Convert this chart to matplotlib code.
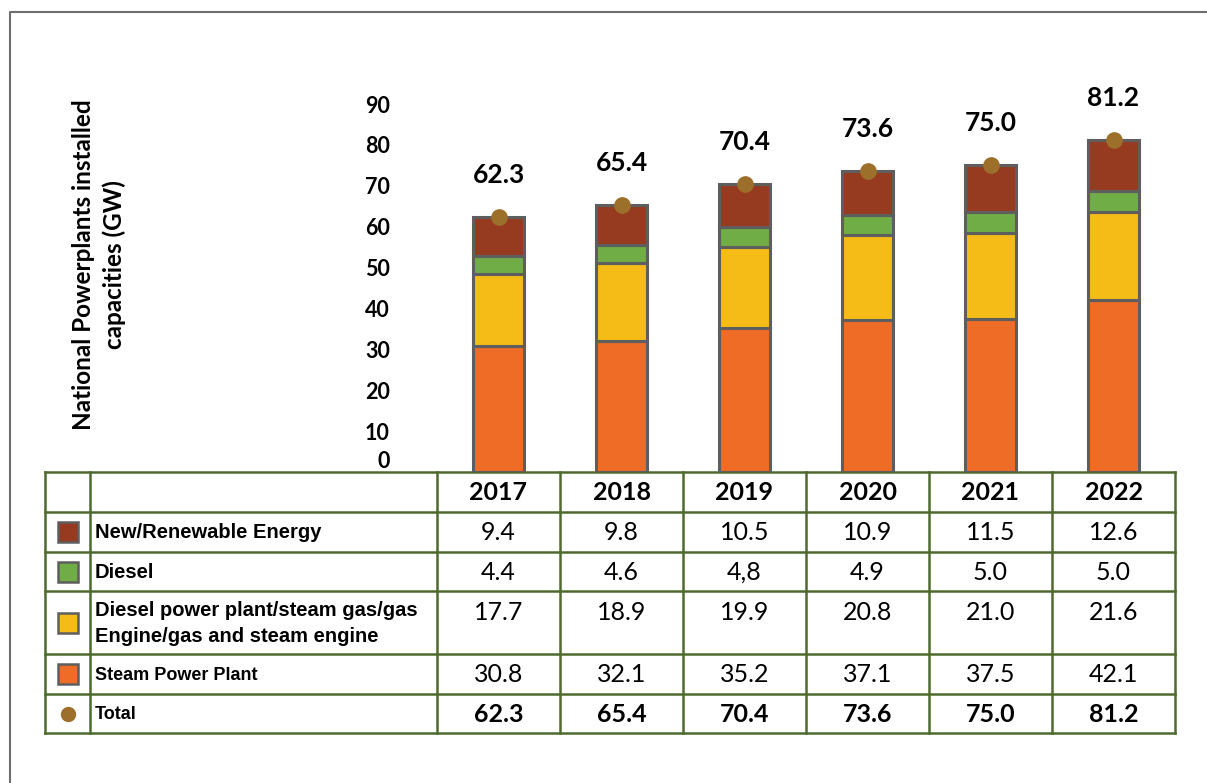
import matplotlib.pyplot as plt
from matplotlib.patches import Rectangle

# Data
years = ["2017", "2018", "2019", "2020", "2021", "2022"]
steam = [30.8, 32.1, 35.2, 37.1, 37.5, 42.1]
gas_engine = [17.7, 18.9, 19.9, 20.8, 21.0, 21.6]
diesel = [4.4, 4.6, 4.8, 4.9, 5.0, 5.0]
renewable = [9.4, 9.8, 10.5, 10.9, 11.5, 12.6]
total = [62.3, 65.4, 70.4, 73.6, 75.0, 81.2]
diesel_text = ["4.4", "4.6", "4,8", "4.9", "5.0", "5.0"]
yticks = [0, 10, 20, 30, 40, 50, 60, 70, 80, 90]

c_ren = "#973B20"
c_die = "#70AD47"
c_gas = "#F5BC17"
c_steam = "#EE6C25"
c_tot = "#9C6F2A"
edge = "#5E5E5E"
grid_green = "#4E6B2E"

W, H = 1207, 783
fig = plt.figure(figsize=(W / 100, H / 100), dpi=100)
plt.rcParams['font.family'] = ['Lato', 'DejaVu Sans']

# Overlay axes in pixel coordinates for the frame and the table
ov = fig.add_axes([0, 0, 1, 1])
ov.set_xlim(0, W)
ov.set_ylim(H, 0)
ov.axis('off')

# Outer frame (left and top)
ov.plot([10, 10, W], [H, 12, 12], color="#6E6E6E", lw=1.5)

# Bar chart axes
left, right, base, top = 437, 1175, 472, 104
ax = fig.add_axes([left / W, 1 - base / H, (right - left) / W, (base - top) / H])
ax.set_xlim(-0.5, len(years) - 0.5)
ax.set_ylim(0, 90)
x = list(range(len(years)))
bw = 0.41
bottom = [0] * len(years)
for vals, col in [(steam, c_steam), (gas_engine, c_gas), (diesel, c_die), (renewable, c_ren)]:
    ax.bar(x, vals, bw, bottom=bottom, color=col, edgecolor=edge, linewidth=2.2, zorder=2)
    bottom = [b + v for b, v in zip(bottom, vals)]

ax.plot(x, total, 'o', color=c_tot, markersize=11, zorder=3, clip_on=False)
for xi, t in zip(x, total):
    ax.annotate(f"{t:.1f}", (xi, t), xytext=(0, 30), textcoords='offset pixels',
                ha='center', va='bottom', fontsize=19, fontweight='bold')

for s in ax.spines.values():
    s.set_visible(False)
ax.set_xticks([])
ax.set_yticks(yticks)
ax.set_yticklabels([str(v) for v in yticks], fontsize=15.5, fontweight='bold')
ax.tick_params(axis='y', length=0, pad=34)
ax.get_yticklabels()[0].set_va('bottom')
ax.patch.set_visible(False)

fig.text(99 / W, 1 - 265 / H, "National Powerplants installed\ncapacities (GW)",
         rotation=90, ha='center', va='center', fontsize=17.5, fontweight='bold',
         linespacing=1.35)

# Table
col_edges = [45, 90, 437, 560, 683, 806, 929, 1052, 1175]
row_edges = [472, 512, 552, 591, 654, 694, 733]
for cx in col_edges:
    ov.plot([cx, cx], [row_edges[0], row_edges[-1]], color=grid_green, lw=1.8)
for ry in row_edges:
    ov.plot([col_edges[0], col_edges[-1]], [ry, ry], color=grid_green, lw=1.8)

row_names = ["New/Renewable Energy", "Diesel",
             "Diesel power plant/steam gas/gas\nEngine/gas and steam engine",
             "Steam Power Plant", "Total"]
row_colors = [c_ren, c_die, c_gas, c_steam, None]
row_values = [[f"{v:.1f}" for v in renewable], diesel_text,
              [f"{v:.1f}" for v in gas_engine], [f"{v:.1f}" for v in steam],
              [f"{v:.1f}" for v in total]]
label_font = ['Liberation Sans Narrow', 'Liberation Sans', 'DejaVu Sans']

for j, yr in enumerate(years):
    cx = (col_edges[j + 2] + col_edges[j + 3]) / 2
    ov.text(cx, (row_edges[0] + row_edges[1]) / 2 + 1, yr, ha='center', va='center',
            fontsize=18, fontweight='bold')

for i, name in enumerate(row_names):
    y0, y1 = row_edges[i + 1], row_edges[i + 2]
    yc = (y0 + y1) / 2
    sx = (col_edges[0] + col_edges[1]) / 2
    if row_colors[i] is not None:
        ov.add_patch(Rectangle((sx - 10, yc - 10), 20, 20, facecolor=row_colors[i],
                               edgecolor=edge, lw=1.8))
    else:
        ov.plot(sx, yc, 'o', color=c_tot, markersize=10)
    fs = 13 if i in (3, 4) else 14.5
    ov.text(col_edges[1] + 5, yc + 1, name, ha='left', va='center', fontsize=fs,
            fontweight='bold', family=label_font, linespacing=1.45)
    for j, val in enumerate(row_values[i]):
        cx = (col_edges[j + 2] + col_edges[j + 3]) / 2
        ty = y0 + 21 if i == 2 else yc + 1
        ov.text(cx, ty, val, ha='center', va='center', fontsize=18,
                fontweight='bold' if i == 4 else 'normal')

fig.savefig("out.png", dpi=100)
